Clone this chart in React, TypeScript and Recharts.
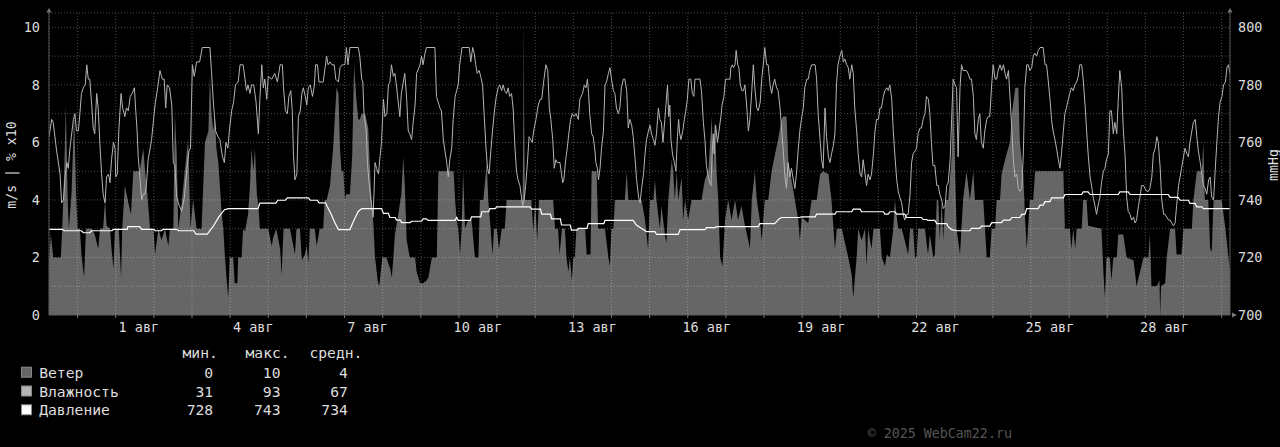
import { Area, CartesianGrid, ComposedChart, Line, XAxis, YAxis } from "recharts";

const FONT = "'DejaVu Sans Mono', monospace";

// time = days since 31 Jul 00:00
const wind: [number, number][] = [
  [-0.75, 1.9], [-0.7, 2.8], [-0.64, 2.0], [-0.44, 2.0], [-0.4, 3.1], [-0.35, 5.0], [-0.31, 7.3], [-0.26, 4.0],
  [-0.23, 3.0], [-0.16, 4.2], [-0.09, 7.0], [-0.04, 4.2], [0.0, 3.0], [0.06, 3.0], [0.1, 2.1], [0.17, 1.3],
  [0.22, 3.0], [0.37, 3.0], [0.45, 2.8], [0.54, 2.3], [0.59, 3.0], [0.67, 3.0], [0.72, 4.0], [0.76, 3.1],
  [0.85, 3.0], [0.89, 2.3], [0.94, 1.6], [0.98, 3.0], [1.08, 3.0], [1.14, 1.3], [1.17, 3.0], [1.24, 4.5],
  [1.33, 3.9], [1.4, 3.5], [1.46, 5.0], [1.63, 5.0], [1.72, 5.8], [1.77, 5.0], [1.81, 4.5], [1.9, 3.0],
  [1.99, 3.0], [2.03, 2.1], [2.12, 3.0], [2.2, 2.6], [2.29, 3.0], [2.38, 2.4], [2.42, 3.0], [2.51, 3.0],
  [2.55, 7.0], [2.6, 5.6], [2.64, 3.0], [2.73, 3.9], [2.81, 5.0], [2.9, 6.1], [2.96, 3.0], [3.03, 4.0],
  [3.12, 3.0], [3.25, 3.0], [3.34, 6.0], [3.43, 6.4], [3.47, 8.3], [3.51, 7.0], [3.56, 6.4], [3.6, 6.9],
  [3.64, 5.8], [3.69, 5.3], [3.73, 4.5], [3.78, 3.5], [3.82, 3.0], [3.86, 2.1], [3.91, 1.2], [3.95, 0.6],
  [3.99, 2.0], [4.08, 2.0], [4.12, 1.1], [4.19, 1.1], [4.21, 2.0], [4.3, 2.0], [4.34, 3.0], [4.39, 2.9],
  [4.47, 3.5], [4.52, 4.5], [4.56, 5.8], [4.61, 5.0], [4.65, 5.8], [4.7, 4.2], [4.74, 3.8], [4.78, 3.0],
  [5.0, 3.0], [5.09, 2.4], [5.13, 2.7], [5.21, 3.0], [5.31, 2.3], [5.35, 1.4], [5.4, 3.0], [5.57, 3.0],
  [5.7, 2.1], [5.74, 3.0], [5.83, 3.0], [5.88, 1.9], [5.96, 2.1], [6.01, 2.4], [6.05, 1.8], [6.09, 3.0],
  [6.22, 3.0], [6.27, 2.4], [6.35, 3.0], [6.44, 3.0], [6.48, 4.0], [6.53, 4.0], [6.62, 4.5], [6.7, 5.8],
  [6.79, 7.9], [6.84, 7.7], [6.88, 5.8], [6.92, 5.0], [6.97, 5.0], [7.01, 4.0], [7.04, 4.2], [7.14, 4.2],
  [7.2, 5.5], [7.25, 8.7], [7.31, 7.5], [7.36, 6.8], [7.4, 6.8], [7.45, 7.0], [7.54, 7.0], [7.62, 6.5],
  [7.67, 5.0], [7.71, 4.0], [7.75, 3.3], [7.8, 2.0], [7.87, 1.2], [7.91, 1.0], [7.95, 1.5], [7.99, 2.0],
  [8.1, 2.0], [8.2, 1.6], [8.24, 1.3], [8.28, 2.0], [8.32, 2.8], [8.41, 3.5], [8.49, 4.2], [8.54, 5.5],
  [8.58, 4.5], [8.63, 2.6], [8.71, 2.0], [8.85, 2.0], [8.89, 1.5], [8.98, 1.1], [9.06, 1.1], [9.15, 1.2],
  [9.2, 1.3], [9.29, 2.0], [9.42, 2.0], [9.46, 5.0], [9.68, 5.0], [9.86, 5.0], [9.9, 4.0], [9.94, 3.3],
  [9.98, 3.0], [10.03, 2.1], [10.07, 3.0], [10.11, 5.0], [10.16, 3.0], [10.24, 3.3], [10.33, 3.3], [10.42, 2.0],
  [10.51, 2.0], [10.55, 4.0], [10.64, 4.0], [10.73, 5.3], [10.77, 4.0], [10.83, 3.0], [10.88, 2.1], [10.92, 3.0],
  [10.99, 3.0], [11.05, 2.3], [11.12, 3.0], [11.2, 3.0], [11.25, 4.0], [11.67, 4.0], [11.69, 7.0], [11.7, 10.3],
  [11.71, 7.0], [11.73, 4.0], [11.9, 4.0], [11.95, 2.9], [12.0, 4.0], [12.05, 2.6], [12.1, 4.0], [12.47, 4.0],
  [12.52, 3.0], [12.6, 3.0], [12.64, 2.1], [12.7, 3.0], [12.78, 3.0], [12.82, 2.0], [12.87, 1.5], [12.91, 2.0],
  [12.96, 1.2], [13.0, 2.0], [13.04, 2.0], [13.08, 3.0], [13.31, 3.0], [13.35, 2.1], [13.45, 2.1], [13.48, 5.0],
  [13.61, 5.0], [13.65, 3.0], [13.83, 3.0], [13.92, 2.0], [13.96, 1.7], [14.0, 3.0], [14.05, 3.0], [14.09, 4.0],
  [14.35, 4.0], [14.4, 5.0], [14.44, 4.0], [14.79, 4.0], [14.88, 3.3], [14.96, 2.3], [15.01, 4.0], [15.1, 4.0],
  [15.14, 4.7], [15.18, 4.0], [15.27, 3.0], [15.31, 3.8], [15.4, 2.8], [15.44, 2.5], [15.49, 4.0], [15.58, 5.4],
  [15.62, 5.0], [15.66, 4.0], [15.71, 5.0], [15.75, 4.0], [15.84, 4.8], [15.88, 3.3], [15.93, 4.0], [16.01, 3.3],
  [16.1, 4.0], [16.36, 4.0], [16.45, 4.7], [16.54, 5.0], [16.63, 6.9], [16.67, 5.0], [16.71, 6.8], [16.76, 4.9],
  [16.8, 4.0], [16.85, 2.0], [16.91, 1.7], [16.98, 3.3], [17.06, 4.0], [17.15, 3.3], [17.24, 4.0], [17.32, 3.3],
  [17.41, 3.8], [17.5, 3.1], [17.59, 2.6], [17.63, 2.3], [17.68, 4.0], [17.76, 5.0], [17.81, 4.0], [17.89, 3.3],
  [17.94, 2.6], [18.02, 4.0], [18.11, 4.0], [18.2, 5.0], [18.29, 5.6], [18.37, 6.1], [18.46, 6.8], [18.5, 6.9],
  [18.59, 6.9], [18.64, 5.3], [18.72, 4.7], [18.81, 4.0], [18.9, 3.3], [18.94, 2.6], [18.99, 3.4], [19.07, 3.3],
  [19.16, 3.2], [19.25, 4.0], [19.38, 4.0], [19.47, 4.9], [19.55, 5.0], [19.69, 4.9], [19.77, 4.0], [19.86, 2.3],
  [19.91, 3.0], [20.04, 3.0], [20.21, 2.0], [20.3, 1.4], [20.34, 0.6], [20.39, 1.4], [20.43, 2.0], [20.47, 3.0],
  [20.56, 2.6], [20.65, 3.0], [20.69, 1.7], [20.73, 3.0], [20.82, 2.3], [20.87, 3.0], [21.04, 3.0], [21.09, 2.0],
  [21.17, 1.7], [21.22, 2.1], [21.3, 2.0], [21.39, 3.0], [21.43, 4.0], [21.52, 3.0], [21.61, 3.0], [21.69, 2.6],
  [21.78, 2.1], [21.83, 3.0], [21.91, 3.0], [21.96, 2.0], [22.0, 2.0], [22.04, 3.0], [22.22, 3.0], [22.3, 2.1],
  [22.35, 2.8], [22.44, 2.0], [22.48, 2.1], [22.53, 4.0], [22.57, 4.0], [22.61, 2.6], [22.66, 4.0], [22.7, 2.6],
  [22.75, 4.0], [22.83, 4.0], [22.92, 5.5], [22.96, 8.2], [23.01, 5.0], [23.05, 3.0], [23.14, 2.1], [23.22, 4.0],
  [23.31, 5.0], [23.4, 4.0], [23.49, 5.0], [23.53, 4.0], [23.75, 4.0], [23.84, 2.0], [23.92, 2.0], [23.97, 3.0],
  [24.06, 3.0], [24.1, 4.0], [24.19, 4.0], [24.23, 4.9], [24.36, 5.6], [24.45, 6.0], [24.5, 7.0], [24.59, 7.9],
  [24.67, 7.9], [24.71, 6.0], [24.8, 4.9], [24.84, 3.5], [24.89, 2.3], [24.97, 4.0], [25.06, 4.0], [25.11, 5.0],
  [25.85, 5.0], [25.89, 3.0], [26.02, 3.0], [26.06, 2.3], [26.11, 3.0], [26.16, 2.3], [26.2, 3.0], [26.33, 3.0],
  [26.37, 4.0], [26.46, 4.0], [26.5, 3.1], [26.85, 3.0], [26.9, 1.5], [26.94, 0.6], [26.98, 2.0], [27.07, 2.0],
  [27.11, 1.2], [27.16, 2.0], [27.25, 2.0], [27.29, 2.8], [27.42, 2.8], [27.51, 2.0], [27.69, 1.9], [27.77, 1.0],
  [27.86, 1.5], [27.95, 2.0], [28.08, 2.0], [28.12, 2.8], [28.16, 1.0], [28.3, 1.0], [28.37, 1.2], [28.39, 0.0],
  [28.41, 1.0], [28.52, 1.1], [28.56, 2.0], [28.65, 3.0], [28.78, 3.0], [28.82, 2.1], [28.95, 2.1], [29.0, 3.0],
  [29.22, 3.0], [29.26, 4.0], [29.35, 5.0], [29.48, 5.0], [29.52, 6.0], [29.56, 4.0], [29.65, 4.0], [29.7, 2.3],
  [29.74, 2.2], [29.79, 4.0], [30.0, 4.0], [30.1, 3.0], [30.22, 1.5],
];

// relative humidity, %
const humidity: [number, number][] = [
  [-0.75, 62], [-0.68, 68], [-0.64, 67], [-0.55, 57], [-0.46, 49], [-0.42, 39], [-0.37, 40], [-0.33, 48],
  [-0.28, 53], [-0.245, 51], [-0.2, 58], [-0.11, 68], [-0.07, 70], [-0.03, 64], [0.02, 64], [0.06, 70],
  [0.1, 77], [0.15, 79], [0.2, 80], [0.24, 87], [0.28, 82], [0.32, 82], [0.37, 73], [0.41, 65],
  [0.45, 63], [0.5, 77], [0.54, 72], [0.59, 58], [0.63, 49], [0.67, 42], [0.72, 39], [0.76, 48],
  [0.81, 49], [0.85, 46], [0.89, 54], [0.94, 60], [0.98, 58], [1.0, 48], [1.04, 49], [1.08, 64],
  [1.14, 77], [1.18, 72], [1.24, 69], [1.28, 72], [1.33, 71], [1.38, 76], [1.43, 77], [1.49, 79],
  [1.52, 72], [1.56, 64], [1.59, 55], [1.64, 47], [1.68, 40], [1.72, 42], [1.77, 42], [1.81, 46],
  [1.85, 54], [1.94, 61], [2.03, 73], [2.1, 79], [2.16, 85], [2.22, 82], [2.27, 82], [2.31, 72],
  [2.35, 80], [2.41, 79], [2.47, 73], [2.51, 53], [2.55, 52], [2.6, 41], [2.64, 39], [2.73, 36],
  [2.8, 41], [2.86, 50], [2.92, 57], [2.96, 58], [3.01, 87], [3.06, 83], [3.12, 88], [3.2, 88],
  [3.27, 93], [3.47, 93], [3.51, 85], [3.56, 74], [3.62, 64], [3.68, 62], [3.73, 61], [3.8, 55],
  [3.85, 53], [3.89, 60], [3.94, 58], [3.98, 64], [4.04, 71], [4.09, 74], [4.14, 80], [4.21, 81],
  [4.26, 87], [4.34, 87], [4.39, 82], [4.43, 78], [4.47, 80], [4.52, 77], [4.56, 80], [4.62, 80],
  [4.68, 74], [4.74, 63], [4.78, 75], [4.83, 87], [4.87, 79], [4.91, 82], [4.96, 75], [5.0, 83],
  [5.09, 82], [5.17, 84], [5.24, 81], [5.31, 87], [5.37, 87], [5.4, 79], [5.45, 71], [5.5, 70],
  [5.54, 76], [5.59, 78], [5.63, 71], [5.66, 56], [5.7, 47], [5.75, 49], [5.79, 69], [5.84, 71],
  [5.88, 77], [5.92, 79], [5.97, 76], [6.01, 73], [6.05, 79], [6.1, 80], [6.16, 76], [6.21, 80],
  [6.24, 87], [6.29, 87], [6.33, 81], [6.44, 81], [6.49, 86], [6.53, 90], [6.57, 87], [6.62, 88],
  [6.67, 87], [6.73, 87], [6.77, 82], [6.84, 81], [6.88, 86], [6.94, 87], [6.97, 87], [7.01, 87],
  [7.05, 93], [7.09, 87], [7.14, 93], [7.36, 93], [7.4, 90], [7.45, 82], [7.48, 81], [7.51, 70],
  [7.57, 64], [7.6, 53], [7.65, 45], [7.71, 38], [7.75, 34], [7.8, 53], [7.84, 51], [7.89, 49],
  [7.93, 55], [7.97, 60], [8.02, 75], [8.06, 69], [8.11, 70], [8.15, 80], [8.19, 81], [8.23, 87],
  [8.28, 83], [8.32, 84], [8.36, 80], [8.4, 75], [8.45, 69], [8.49, 77], [8.54, 81], [8.58, 84],
  [8.63, 75], [8.67, 64], [8.71, 63], [8.76, 61], [8.8, 67], [8.85, 73], [8.89, 84], [8.98, 87],
  [9.02, 90], [9.06, 87], [9.11, 91], [9.15, 93], [9.37, 93], [9.41, 76], [9.5, 72], [9.54, 71],
  [9.59, 61], [9.68, 53], [9.72, 48], [9.76, 54], [9.81, 58], [9.85, 68], [9.9, 76], [9.94, 78],
  [9.98, 80], [10.02, 87], [10.08, 93], [10.27, 93], [10.31, 88], [10.36, 93], [10.4, 91], [10.44, 87],
  [10.48, 84], [10.53, 85], [10.57, 83], [10.62, 80], [10.66, 70], [10.71, 58], [10.75, 51], [10.79, 49],
  [10.83, 56], [10.88, 64], [10.94, 72], [10.98, 76], [11.03, 79], [11.07, 80], [11.12, 78], [11.16, 80],
  [11.2, 78], [11.25, 77], [11.29, 79], [11.33, 76], [11.38, 77], [11.42, 72], [11.47, 58], [11.51, 50],
  [11.55, 47], [11.6, 45], [11.64, 41], [11.67, 38], [11.71, 40], [11.75, 45], [11.79, 52], [11.84, 62],
  [11.88, 61], [11.92, 60], [11.96, 64], [12.02, 68], [12.08, 73], [12.13, 75], [12.17, 75], [12.23, 82],
  [12.28, 87], [12.33, 85], [12.37, 72], [12.41, 68], [12.46, 61], [12.5, 51], [12.54, 54], [12.58, 53],
  [12.65, 53], [12.69, 49], [12.72, 46], [12.75, 47], [12.8, 54], [12.84, 58], [12.88, 63], [12.93, 68],
  [12.97, 70], [13.02, 69], [13.07, 70], [13.13, 68], [13.17, 75], [13.24, 77], [13.29, 80], [13.33, 79],
  [13.37, 82], [13.4, 77], [13.43, 70], [13.48, 63], [13.52, 62], [13.56, 58], [13.59, 53], [13.63, 51],
  [13.66, 47], [13.7, 51], [13.74, 58], [13.79, 64], [13.83, 80], [13.87, 81], [13.92, 84], [13.96, 86],
  [14.0, 82], [14.05, 78], [14.09, 77], [14.13, 72], [14.18, 70], [14.22, 72], [14.26, 79], [14.31, 82],
  [14.35, 82], [14.4, 78], [14.44, 65], [14.48, 68], [14.53, 66], [14.57, 62], [14.62, 54], [14.66, 47],
  [14.71, 41], [14.75, 39], [14.79, 44], [14.84, 49], [14.88, 56], [14.92, 61], [14.97, 64], [15.01, 66],
  [15.05, 63], [15.1, 61], [15.14, 59], [15.18, 63], [15.23, 72], [15.27, 68], [15.31, 67], [15.35, 60],
  [15.4, 68], [15.44, 75], [15.47, 80], [15.5, 69], [15.53, 73], [15.56, 61], [15.6, 56], [15.65, 53],
  [15.69, 50], [15.73, 62], [15.76, 68], [15.79, 63], [15.82, 61], [15.87, 64], [15.91, 68], [15.95, 71],
  [15.99, 75], [16.03, 82], [16.08, 82], [16.12, 77], [16.16, 76], [16.19, 82], [16.32, 82], [16.36, 78],
  [16.41, 67], [16.45, 61], [16.49, 52], [16.54, 48], [16.58, 46], [16.61, 45], [16.64, 56], [16.67, 63],
  [16.69, 56], [16.73, 66], [16.78, 60], [16.82, 64], [16.87, 69], [16.9, 73], [16.95, 76], [16.99, 82],
  [17.11, 82], [17.13, 86], [17.17, 87], [17.2, 86], [17.24, 87], [17.27, 92], [17.31, 87], [17.34, 86],
  [17.38, 80], [17.42, 78], [17.46, 78], [17.5, 80], [17.55, 72], [17.59, 64], [17.63, 68], [17.68, 78],
  [17.72, 87], [17.76, 79], [17.81, 72], [17.85, 71], [17.9, 74], [17.94, 82], [17.98, 87], [18.02, 93],
  [18.07, 87], [18.11, 87], [18.16, 80], [18.2, 77], [18.24, 80], [18.28, 82], [18.33, 79], [18.37, 78],
  [18.42, 72], [18.46, 65], [18.5, 58], [18.55, 48], [18.59, 44], [18.63, 53], [18.68, 48], [18.72, 51],
  [18.77, 47], [18.81, 44], [18.85, 49], [18.9, 58], [18.94, 64], [18.98, 68], [19.03, 72], [19.07, 79],
  [19.12, 82], [19.16, 82], [19.2, 85], [19.25, 87], [19.34, 87], [19.38, 82], [19.42, 70], [19.47, 61],
  [19.51, 54], [19.55, 51], [19.6, 72], [19.64, 62], [19.69, 55], [19.73, 53], [19.77, 56], [19.82, 59],
  [19.86, 63], [19.9, 80], [19.94, 87], [19.99, 90], [20.04, 92], [20.08, 88], [20.12, 89], [20.17, 87],
  [20.21, 86], [20.25, 82], [20.3, 87], [20.34, 84], [20.38, 72], [20.43, 64], [20.47, 56], [20.52, 49],
  [20.56, 48], [20.6, 54], [20.65, 49], [20.69, 45], [20.73, 49], [20.78, 47], [20.82, 49], [20.87, 56],
  [20.91, 64], [20.95, 68], [21.0, 68], [21.04, 72], [21.08, 72], [21.13, 76], [21.17, 78], [21.22, 79],
  [21.26, 78], [21.3, 80], [21.35, 75], [21.39, 64], [21.43, 56], [21.48, 47], [21.52, 43], [21.56, 41],
  [21.61, 39], [21.65, 35], [21.69, 33], [21.74, 35], [21.78, 35], [21.83, 42], [21.87, 53], [21.91, 56],
  [21.96, 57], [22.0, 58], [22.04, 63], [22.09, 65], [22.13, 65], [22.17, 68], [22.22, 70], [22.26, 76],
  [22.31, 75], [22.35, 70], [22.39, 60], [22.43, 52], [22.48, 52], [22.53, 45], [22.57, 45], [22.61, 42],
  [22.66, 40], [22.7, 37], [22.75, 38], [22.79, 45], [22.83, 46], [22.88, 54], [22.92, 68], [22.96, 82],
  [23.01, 80], [23.05, 79], [23.09, 55], [23.14, 79], [23.18, 87], [23.22, 85], [23.27, 85], [23.31, 85],
  [23.35, 84], [23.4, 82], [23.44, 82], [23.49, 76], [23.53, 63], [23.57, 61], [23.62, 68], [23.66, 70],
  [23.7, 60], [23.75, 58], [23.79, 64], [23.84, 68], [23.88, 69], [23.92, 69], [23.97, 80], [24.01, 87],
  [24.06, 82], [24.1, 82], [24.14, 85], [24.19, 87], [24.23, 85], [24.28, 87], [24.32, 84], [24.36, 82],
  [24.41, 85], [24.45, 76], [24.5, 64], [24.54, 54], [24.58, 48], [24.63, 49], [24.67, 44], [24.71, 43],
  [24.76, 44], [24.8, 56], [24.84, 79], [24.89, 87], [24.93, 87], [24.97, 85], [25.02, 86], [25.06, 90],
  [25.1, 91], [25.15, 90], [25.19, 92], [25.24, 93], [25.32, 93], [25.37, 87], [25.41, 87], [25.45, 82],
  [25.5, 75], [25.54, 68], [25.58, 64], [25.63, 61], [25.67, 58], [25.72, 54], [25.76, 51], [25.8, 56],
  [25.85, 64], [25.89, 70], [25.93, 72], [25.98, 75], [26.02, 77], [26.06, 79], [26.11, 78], [26.15, 80],
  [26.2, 81], [26.24, 83], [26.28, 87], [26.33, 87], [26.37, 82], [26.42, 73], [26.46, 64], [26.5, 56],
  [26.55, 48], [26.59, 45], [26.63, 41], [26.68, 38], [26.72, 35], [26.76, 38], [26.81, 41], [26.85, 46],
  [26.9, 50], [26.94, 51], [26.98, 54], [27.03, 56], [27.07, 71], [27.11, 71], [27.16, 63], [27.2, 67],
  [27.25, 63], [27.29, 75], [27.33, 85], [27.38, 79], [27.42, 65], [27.47, 55], [27.51, 41], [27.55, 36],
  [27.6, 35], [27.64, 33], [27.69, 34], [27.73, 32], [27.77, 33], [27.82, 38], [27.86, 41], [27.9, 45],
  [27.95, 45], [27.99, 44], [28.04, 43], [28.08, 43], [28.12, 44], [28.17, 48], [28.21, 56], [28.26, 58],
  [28.3, 62], [28.34, 60], [28.39, 51], [28.43, 40], [28.48, 35], [28.52, 35], [28.56, 34], [28.61, 33],
  [28.65, 33], [28.69, 32], [28.74, 31], [28.78, 32], [28.82, 38], [28.87, 45], [28.91, 48], [28.95, 51],
  [29.0, 55], [29.04, 58], [29.09, 56], [29.13, 55], [29.17, 60], [29.22, 64], [29.26, 67], [29.31, 68],
  [29.35, 62], [29.39, 57], [29.44, 53], [29.48, 49], [29.52, 45], [29.57, 44], [29.61, 42], [29.66, 47],
  [29.7, 48], [29.74, 41], [29.79, 40], [29.83, 50], [29.88, 61], [29.92, 69], [29.96, 74], [30.01, 76],
  [30.05, 80], [30.1, 81], [30.14, 86], [30.18, 87], [30.22, 84],
];

// pressure, mmHg
const pressure: [number, number][] = [
  [-0.75, 729.8], [-0.4, 729.8], [-0.35, 729.3], [0.1, 729.3], [0.15, 728.6], [0.32, 728.6], [0.37, 729.3],
  [0.9, 729.3], [0.94, 729.8], [1.3, 729.8], [1.32, 730.7], [1.63, 730.7], [1.68, 729.8], [2.0, 729.8],
  [2.03, 729.3], [2.2, 729.3], [2.24, 729.8], [2.6, 729.8], [2.64, 729.3], [3.05, 729.3], [3.1, 728.1],
  [3.4, 728.1], [3.55, 730.7], [3.7, 734.0], [3.85, 736.6], [3.95, 737.0], [4.73, 737.0], [4.78, 738.9],
  [5.2, 738.9], [5.25, 739.9], [5.45, 739.9], [5.5, 740.7], [6.05, 740.7], [6.1, 739.9], [6.29, 739.9],
  [6.33, 739.0], [6.5, 739.0], [6.55, 737.6], [6.65, 735.0], [6.75, 732.0], [6.84, 729.7], [7.14, 729.7],
  [7.25, 733.0], [7.36, 736.0], [7.45, 737.0], [7.97, 737.0], [8.02, 735.3], [8.15, 735.3], [8.19, 733.9],
  [8.33, 733.9], [8.36, 733.0], [8.46, 733.0], [8.5, 732.1], [8.72, 732.1], [8.76, 732.6], [9.02, 732.6],
  [9.06, 733.4], [9.15, 733.4], [9.19, 732.9], [9.9, 732.9], [9.94, 733.9], [9.98, 732.9], [10.3, 732.9],
  [10.33, 734.1], [10.57, 734.1], [10.6, 735.9], [10.78, 735.9], [10.81, 737.0], [10.95, 737.0], [10.99, 737.6],
  [11.86, 737.6], [11.91, 736.8], [12.14, 736.8], [12.17, 735.1], [12.4, 735.1], [12.43, 733.4], [12.66, 733.4],
  [12.69, 731.3], [12.92, 731.3], [12.95, 729.5], [13.1, 729.5], [13.13, 730.1], [13.36, 730.1], [13.39, 731.8],
  [13.8, 731.8], [13.83, 732.9], [14.57, 732.9], [14.65, 731.3], [14.79, 730.1], [14.92, 729.0], [15.14, 729.0],
  [15.18, 728.0], [15.75, 728.0], [15.8, 729.7], [16.45, 729.7], [16.49, 730.4], [16.71, 730.4], [16.76, 730.7],
  [17.85, 730.7], [17.89, 731.8], [18.28, 731.8], [18.4, 733.5], [18.46, 733.9], [18.94, 733.9], [18.98, 734.1],
  [19.34, 734.1], [19.38, 735.1], [19.86, 735.1], [19.9, 735.9], [20.3, 735.9], [20.34, 736.8], [20.52, 736.8],
  [20.56, 735.9], [21.13, 735.9], [21.17, 735.1], [21.26, 735.1], [21.3, 735.9], [21.43, 735.9], [21.48, 735.1],
  [21.69, 735.1], [21.74, 733.9], [22.13, 733.9], [22.17, 733.2], [22.26, 733.2], [22.3, 732.9], [22.48, 732.9],
  [22.53, 731.8], [22.79, 731.8], [22.83, 730.7], [22.92, 729.7], [23.05, 729.3], [23.4, 729.3], [23.44, 730.1],
  [23.66, 730.1], [23.7, 730.9], [23.92, 730.9], [23.97, 732.1], [24.23, 732.1], [24.28, 733.0], [24.45, 733.0],
  [24.5, 733.9], [24.71, 733.9], [24.76, 735.0], [24.84, 735.0], [24.89, 737.0], [25.19, 737.0], [25.24, 738.2],
  [25.32, 738.2], [25.37, 739.4], [25.5, 739.4], [25.54, 740.7], [25.85, 740.7], [25.89, 741.9], [26.33, 741.9],
  [26.37, 742.8], [26.5, 742.8], [26.55, 741.9], [27.29, 741.9], [27.33, 742.8], [27.55, 742.8], [27.6, 741.9],
  [28.6, 741.9], [28.65, 740.9], [28.86, 740.9], [28.91, 739.9], [29.13, 739.9], [29.17, 738.8], [29.3, 738.8],
  [29.35, 737.6], [29.48, 737.6], [29.52, 737.0], [30.22, 737.0],
];

const midnights = [
  0, 1, 2, 3, 4, 5, 6, 7, 8, 9, 10, 11, 12, 13, 14, 15, 16, 17, 18, 19, 20, 21, 22, 23, 24, 25, 26, 27, 28, 29, 30,
];
const labelDays = [1, 4, 7, 10, 13, 16, 19, 22, 25, 28];
const month = "авг";
const leftTicks = [0, 1, 2, 3, 4, 5, 6, 7, 8, 9, 10];
const rightTicks = [700, 720, 740, 760, 780, 800];

const legendNames = ["Ветер", "Влажность", "Давление"];
const legendColors = ["#666666", "#b4b4b4", "#ffffff"];
const statHeaders = ["мин.", "макс.", "средн."];
const statMin = [0, 31, 728];
const statMax = [10, 93, 743];
const statAvg = [4, 67, 734];

const windData = wind.map(([t, v]) => ({ t, v }));
const humidityData = humidity.map(([t, v]) => ({ t, v: v / 10 }));
const pressureData = pressure.map(([t, v]) => ({ t, v }));
const labelTicks = labelDays.map((d) => d + 0.5);

const tickStyle = { fill: "#dddddd", fontSize: 13.5, fontFamily: FONT };

// invisible tick text: keeps the midnight ticks alive for the grid and tick marks
const NoLabel = () => <g />;

export default function App() {
  return (
    <div
      style={{
        position: "absolute",
        left: 0,
        top: 0,
        width: 1280,
        height: 447,
        background: "#000",
        overflow: "hidden",
      }}
    >
      <ComposedChart width={1280} height={447} margin={{ top: 13, right: 10, bottom: 110, left: 9 }}>
        <XAxis
          xAxisId="day"
          type="number"
          dataKey="t"
          domain={[-0.75, 30.22]}
          allowDataOverflow
          ticks={midnights}
          interval={0}
          tick={NoLabel}
          tickSize={3}
          height={2}
          axisLine={{ stroke: "#555" }}
          tickLine={{ stroke: "#777" }}
        />
        <XAxis
          xAxisId="lbl"
          type="number"
          dataKey="t"
          domain={[-0.75, 30.22]}
          allowDataOverflow
          ticks={labelTicks}
          interval={0}
          tickFormatter={(v: number) => {
            const d = Math.round(v - 0.5);
            return `${d < 10 ? "\u00a0" : ""}${d} ${month}`;
          }}
          axisLine={false}
          tickLine={false}
          tickSize={0}
          tickMargin={5}
          height={20}
          tick={tickStyle}
        />
        <YAxis
          yAxisId="left"
          type="number"
          domain={[0, 10.5]}
          allowDataOverflow
          ticks={leftTicks}
          interval={0}
          tickFormatter={(v: number) => (v % 2 === 0 ? String(v) : "")}
          width={40}
          tickMargin={3}
          tickLine={false}
          axisLine={{ stroke: "#555" }}
          tick={tickStyle}
        />
        <YAxis
          yAxisId="right"
          orientation="right"
          type="number"
          domain={[700, 805]}
          allowDataOverflow
          ticks={rightTicks}
          interval={0}
          width={40}
          tickMargin={2}
          tickLine={false}
          axisLine={{ stroke: "#555" }}
          tick={tickStyle}
        />
        <Area
          xAxisId="day"
          yAxisId="left"
          data={windData}
          dataKey="v"
          type="linear"
          fill="#666666"
          fillOpacity={1}
          stroke="none"
          isAnimationActive={false}
        />
        <CartesianGrid
          xAxisId="day"
          yAxisId="left"
          stroke="rgba(255,255,255,0.3)"
          strokeDasharray="1 2"
          zIndex={150}
        />
        <Line
          xAxisId="day"
          yAxisId="left"
          data={humidityData}
          dataKey="v"
          type="linear"
          stroke="#b4b4b4"
          strokeWidth={1}
          dot={false}
          isAnimationActive={false}
        />
        <Line
          xAxisId="day"
          yAxisId="right"
          data={pressureData}
          dataKey="v"
          type="linear"
          stroke="#ffffff"
          strokeWidth={1.2}
          dot={false}
          isAnimationActive={false}
        />
      </ComposedChart>

      <svg
        width={1280}
        height={447}
        style={{ position: "absolute", left: 0, top: 0, pointerEvents: "none" }}
        fontFamily={FONT}
      >
        {/* axis arrows */}
        <polygon points="46.5,12.5 51.5,12.5 49,8" fill="#777" />
        <polygon points="1227.5,12.5 1232.5,12.5 1230,8" fill="#777" />
        <polygon points="1232,312.5 1232,317.5 1237,315" fill="#777" />

        <text
          x={11.5}
          y={165}
          transform="rotate(-90 11.5 165)"
          textAnchor="middle"
          dominantBaseline="central"
          fill="#dddddd"
          fontSize={13.2}
        >
          m/s | % x10
        </text>
        <text
          x={1273.5}
          y={165}
          transform="rotate(-90 1273.5 165)"
          textAnchor="middle"
          dominantBaseline="central"
          fill="#dddddd"
          fontSize={13.2}
        >
          mmHg
        </text>

        {/* legend */}
        <g fill="#dddddd" fontSize={14.7}>
          <text x={182.5} y={358.3}>{statHeaders[0]}</text>
          <text x={245.5} y={358.3}>{statHeaders[1]}</text>
          <text x={309.4} y={358.3}>{statHeaders[2]}</text>
          {legendNames.map((name, i) => {
            const base = 377.7 + i * 18.8;
            return (
              <g key={name}>
                <rect
                  x={21.5}
                  y={base - 10.5}
                  width={10}
                  height={10}
                  fill={legendColors[i]}
                  stroke="#888"
                  strokeWidth={1}
                />
                <text x={39.2} y={base}>{name}</text>
                <text x={213.2} y={base} textAnchor="end">{statMin[i]}</text>
                <text x={280.5} y={base} textAnchor="end">{statMax[i]}</text>
                <text x={347.9} y={base} textAnchor="end">{statAvg[i]}</text>
              </g>
            );
          })}
        </g>

        <text x={867.8} y={437.7} fill="#555555" fontSize={13.3}>
          © 2025 WebCam22.ru
        </text>
      </svg>
    </div>
  );
}
